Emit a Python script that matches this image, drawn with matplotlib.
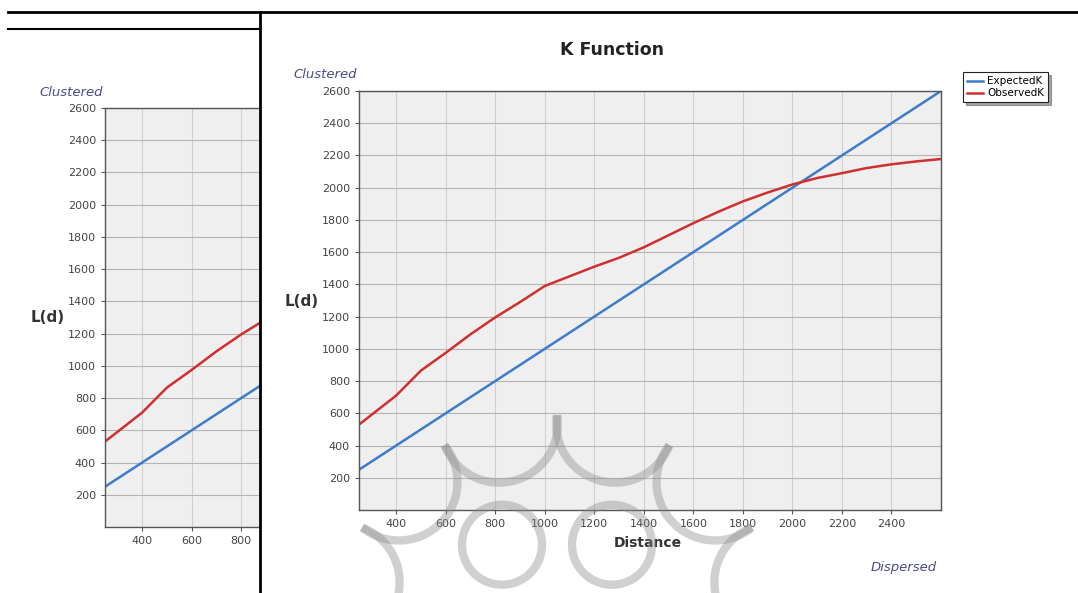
import numpy as np
import matplotlib.pyplot as plt
from matplotlib.lines import Line2D
from matplotlib.patches import Circle

# data
distance = [250, 300, 400, 500, 600, 700, 800, 900, 1000, 1100, 1200, 1300, 1400,
            1500, 1600, 1700, 1800, 1900, 2000, 2100, 2200, 2300, 2400, 2500, 2600]
expected_k = [250, 300, 400, 500, 600, 700, 800, 900, 1000, 1100, 1200, 1300, 1400,
              1500, 1600, 1700, 1800, 1900, 2000, 2100, 2200, 2300, 2400, 2500, 2600]
observed_k = [530, 590, 710, 865, 975, 1090, 1195, 1290, 1390, 1450, 1510, 1565, 1630,
              1705, 1780, 1850, 1915, 1970, 2020, 2060, 2090, 2122, 2145, 2163, 2178]
x_ticks = [400, 600, 800, 1000, 1200, 1400, 1600, 1800, 2000, 2200, 2400]
y_ticks = [200, 400, 600, 800, 1000, 1200, 1400, 1600, 1800, 2000, 2200, 2400, 2600]

W, H = 1078, 593
fig = plt.figure(figsize=(W / 100, H / 100), dpi=100)
fig.patch.set_facecolor('white')

BLUE = '#3d7cc9'
RED = '#cf2f2f'
LABEL = '#4a4a8c'
PX_PER_UNIT = 582 / 2350  # horizontal scale of the plot area


def pixel_axes(z):
    # full-figure axes in pixel coordinates for text / decorations
    a = fig.add_axes([0, 0, 1, 1], zorder=z)
    a.set_xlim(0, W)
    a.set_ylim(H, 0)
    a.axis('off')
    a.patch.set_alpha(0)
    return a


def draw_chart(dx, dy, z, right_px=941, full=True):
    canvas = pixel_axes(z)
    left, top, bottom = 359 + dx, 91 + dy, 510 + dy
    right = right_px
    ax = fig.add_axes([left / W, 1 - bottom / H, (right - left) / W, (bottom - top) / H],
                      zorder=z + 0.1)
    ax.set_facecolor('#efefef')
    ax.plot(distance, expected_k, color=BLUE, lw=1.8, label='ExpectedK')
    ax.plot(distance, observed_k, color=RED, lw=1.8, label='ObservedK')
    ax.set_xlim(250, 250 + (right - left) / PX_PER_UNIT)
    ax.set_ylim(0, 2600)
    ax.set_xticks([t for t in x_ticks if t < 250 + (right - left) / PX_PER_UNIT])
    ax.set_yticks(y_ticks)
    ax.tick_params(labelsize=8, labelcolor='#444444', color='#555555', length=3, width=0.8)
    ax.grid(axis='y', color='#b5b5b5', lw=0.8)
    ax.grid(axis='x', color='#d0d0d0', lw=0.8)
    ax.set_axisbelow(True)
    for s in ax.spines.values():
        s.set_color('#555555')
        s.set_linewidth(1.0)

    canvas.text(293 + dx, 75 + dy, 'Clustered', fontsize=9.5, style='italic',
                ha='left', va='center', color=LABEL)
    canvas.text(302 + dx, 301 + dy, 'L(d)', fontsize=11, fontweight='bold',
                ha='center', va='center', color='#333333')
    if not full:
        return
    leg = ax.legend(loc='upper left', bbox_to_anchor=(963 + dx, 72 + dy),
                    bbox_transform=canvas.transData, fontsize=7.5, frameon=True,
                    fancybox=False, shadow=True, handlelength=1.5, borderpad=0.4,
                    labelspacing=0.2, handletextpad=0.4, borderaxespad=0)
    leg.get_frame().set_edgecolor('#222222')
    leg.get_frame().set_linewidth(0.8)
    canvas.text(612 + dx, 50 + dy, 'K Function', fontsize=12.5, fontweight='bold',
                ha='center', va='center', color='#222222')
    canvas.text(648 + dx, 543 + dy, 'Distance', fontsize=10, fontweight='bold',
                ha='center', va='center', color='#333333')
    canvas.text(937 + dx, 567 + dy, 'Dispersed', fontsize=9.5, style='italic',
                ha='right', va='center', color=LABEL)


# background window, only its visible left part
draw_chart(-254, 17, 1, right_px=260, full=False)

# foreground window
draw_chart(0, 0, 3)

# window frame lines and watermark
over = pixel_axes(5)
over.add_line(Line2D([8, W], [12, 12], color='black', lw=2))
over.add_line(Line2D([8, 260], [29, 29], color='black', lw=1.5))
over.add_line(Line2D([260, 260], [12, H], color='black', lw=2))

cx, cy = 557, 640
r_out, r_in = 225, 165
wm = dict(color='#8a8a8a', alpha=0.4, lw=6, solid_capstyle='butt')
for k in range(12):
    a1 = np.radians(90 + 30 * k)
    a2 = np.radians(120 + 30 * k)
    am = np.radians(105 + 30 * k)
    p1 = np.array([cx + r_out * np.cos(a1), cy - r_out * np.sin(a1)])
    p2 = np.array([cx + r_out * np.cos(a2), cy - r_out * np.sin(a2)])
    pm = np.array([cx + r_in * np.cos(am), cy - r_in * np.sin(am)])
    # circle through three points
    A = np.array([[p2[0] - p1[0], p2[1] - p1[1]], [pm[0] - p1[0], pm[1] - p1[1]]]) * 2
    b = np.array([p2 @ p2 - p1 @ p1, pm @ pm - p1 @ p1])
    c = np.linalg.solve(A, b)
    rr = np.linalg.norm(p1 - c)
    t1 = np.arctan2(p1[1] - c[1], p1[0] - c[0])
    t2 = np.arctan2(p2[1] - c[1], p2[0] - c[0])
    tm = np.arctan2(pm[1] - c[1], pm[0] - c[0])
    ts = np.unwrap([t1, tm, t2])
    t = np.concatenate([np.linspace(ts[0], ts[1], 30), np.linspace(ts[1], ts[2], 30)])
    over.plot(c[0] + rr * np.cos(t), c[1] + rr * np.sin(t), **wm)

for ang in [60, 120, 0, 180, -60, 240]:
    a = np.radians(ang)
    over.add_patch(Circle((cx + 110 * np.cos(a), cy - 110 * np.sin(a)), 40, fill=False,
                          edgecolor='#8a8a8a', alpha=0.4, lw=6))

fig.savefig('out.png', dpi=100)
